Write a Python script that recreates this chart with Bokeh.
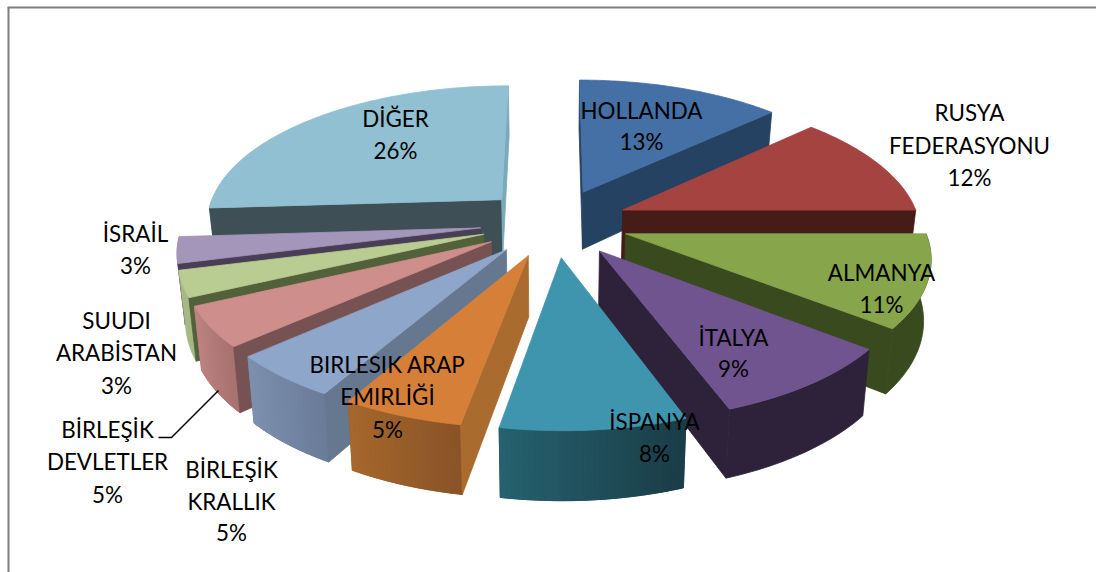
import numpy as np
from bokeh.plotting import figure
from bokeh.models import ColumnDataSource, Range1d
from bokeh.core.properties import value
from bokeh.embed import file_html
from bokeh.resources import INLINE

# ---- chart data (shares) ----
names = ["HOLLANDA", "RUSYA FEDERASYONU", "ALMANYA", "İTALYA", "İSPANYA",
         "BIRLESIK ARAP EMIRLİĞİ", "BİRLEŞİK KRALLIK", "BİRLEŞİK DEVLETLER",
         "SUUDI ARABİSTAN", "İSRAİL", "DİĞER"]
shares = [13, 12, 10.6, 8.8, 8.4, 5.5, 5.1, 4.6, 3, 3, 26]

# ---- colours: top face, radial cut faces, outer wall start / end ----
top_col = ["#4470a6", "#a54340", "#87a54a", "#70548f", "#3f95ad", "#d57f39",
           "#8fa6cb", "#cd8e8c", "#b9cd92", "#a496bb", "#90c0d1"]
cut_start = ["#264263", "#461c19", "#394a1f", "#2d2239", "#2d2239", "#aa6b2f",
             "#667890", "#775252", "#52613a", "#483f56", "#3e4f55"]
cut_end = ["#264263", "#461c19", "#394a1f", "#2d2239", "#2d2239", "#aa6b2f",
           "#667890", "#775252", "#52613a", "#483f56", "#7aa9b8"]
wall_a = ["#264263", "#461c19", "#394a1f", "#2d2239", "#1a3d47", "#8a5428",
          "#6a7c98", "#a87270", "#a6b983", "#9486a8", "#7aa9b8"]
wall_b = ["#264263", "#461c19", "#394a1f", "#2d2239", "#26616e", "#a5672b",
          "#7c90ae", "#bc8380", "#a6b983", "#9486a8", "#7aa9b8"]

# ---- labels: lines of text with their page positions ----
labels = [
    (641, 110, "HOLLANDA"), (641, 141, "13%"),
    (969, 112, "RUSYA"), (969, 145, "FEDERASYONU"), (969, 177, "12%"),
    (881, 272, "ALMANYA"), (881, 304, "11%"),
    (733, 337, "İTALYA"), (733, 368, "9%"),
    (654, 421, "İSPANYA"), (654, 453, "8%"),
    (387, 364, "BIRLESIK ARAP"), (387, 396, "EMIRLİĞİ"), (387, 429, "5%"),
    (231, 469, "BİRLEŞİK"), (231, 501, "KRALLIK"), (231, 532, "5%"),
    (107, 429, "BİRLEŞİK"), (107, 461, "DEVLETLER"), (107, 494, "5%"),
    (116, 320, "SUUDI"), (116, 352, "ARABİSTAN"), (116, 385, "3%"),
    (135, 233, "İSRAİL"), (135, 265, "3%"),
    (395, 118, "DİĞER"), (395, 150, "26%"),
]

# ---- projection of the tilted pie ----
W, H = 1096, 572
CX, CY = 554, 222
RX, RY, PERSP = 297, 136.5, 0.145
EXPLODE = 0.25
DEPTH, DEPTH_GROW = 59, 8.8
CONV = 0.02


def project(X, Y):
    d = 1 + PERSP * Y
    return CX + RX * X / d, CY - RY * Y / d


def lower(x, y, Y):
    return x + (CX - x) * CONV, y + DEPTH - DEPTH_GROW * Y


def hx(c1, c2, t):
    a = [int(c1[i:i + 2], 16) for i in (1, 3, 5)]
    b = [int(c2[i:i + 2], 16) for i in (1, 3, 5)]
    return "#%02x%02x%02x" % tuple(round(u + (v - u) * t) for u, v in zip(a, b))


def area(px, py):
    s = 0.0
    for j in range(len(px)):
        k = (j + 1) % len(px)
        s += px[j] * py[k] - px[k] * py[j]
    return s / 2


frac = np.array(shares, float) / sum(shares)
edges = np.concatenate([[0], np.cumsum(frac)]) * 2 * np.pi
mids = (edges[:-1] + edges[1:]) / 2

xs, ys, cols = [], [], []


def add(px, py, c):
    xs.append(list(px))
    ys.append(list(py))
    cols.append(c)


for i in np.argsort(-np.cos(mids)):
    a0, a1, m = edges[i], edges[i + 1], mids[i]
    ox, oy = EXPLODE * np.sin(m), EXPLODE * np.cos(m)
    th = np.linspace(a0, a1, max(8, int(shares[i] * 4)))
    wy = oy + np.cos(th)
    ax, ay = project(ox, oy)
    rx, ry = project(ox + np.sin(th), wy)
    bax, bay = lower(ax, ay, oy)
    brx, bry = lower(rx, ry, wy)
    # outer wall (front half only): a solid base, then shaded strips over it
    keep = [k for k in range(len(th) - 1) if np.cos(th[k]) + np.cos(th[k + 1]) <= 0]
    if keep:
        idx = keep + [keep[-1] + 1]
        add([*rx[idx], *brx[idx][::-1]], [*ry[idx], *bry[idx][::-1]],
            hx(wall_a[i], wall_b[i], 0.5))
        if wall_a[i] != wall_b[i]:
            for k in keep:
                t = k / max(1, len(th) - 2)
                add([rx[k], rx[k + 1], brx[k + 1], brx[k]],
                    [ry[k], ry[k + 1], bry[k + 1], bry[k]],
                    hx(wall_a[i], wall_b[i], t))
    # radial cut faces, only those turned to the viewer
    qx, qy = [ax, rx[0], brx[0], bax], [ay, ry[0], bry[0], bay]
    if area(qx, qy) < 0:
        add(qx, qy, cut_start[i])
    qx, qy = [ax, rx[-1], brx[-1], bax], [ay, ry[-1], bry[-1], bay]
    if area(qx, qy) > 0:
        add(qx, qy, cut_end[i])
    # top face
    add([ax, *rx], [ay, *ry], top_col[i])

p = figure(width=W, height=H, output_backend="svg", toolbar_location=None,
           x_range=Range1d(0, W), y_range=Range1d(H, 0),
           min_border=0, outline_line_color=None)
p.axis.visible = False
p.grid.visible = False

p.patches("xs", "ys", source=ColumnDataSource(dict(xs=xs, ys=ys, c=cols)),
          fill_color="c", line_color="c", line_width=0.8)

# chart frame and leader line
p.line([8, 8], [H, 7], line_color="#7f7f7f", line_width=2)
p.line([7, W], [7, 7], line_color="#7f7f7f", line_width=2)
p.line([158, 171, 218], [437, 437, 390], line_color="#000000", line_width=1.5)

p.text([l[0] for l in labels], [l[1] for l in labels], [l[2] for l in labels],
       text_font=value("Lato"), text_font_size="22.4px", text_align="center",
       text_baseline="middle", text_color="#000000")

open("out.html", "w").write(file_html(p, INLINE))
